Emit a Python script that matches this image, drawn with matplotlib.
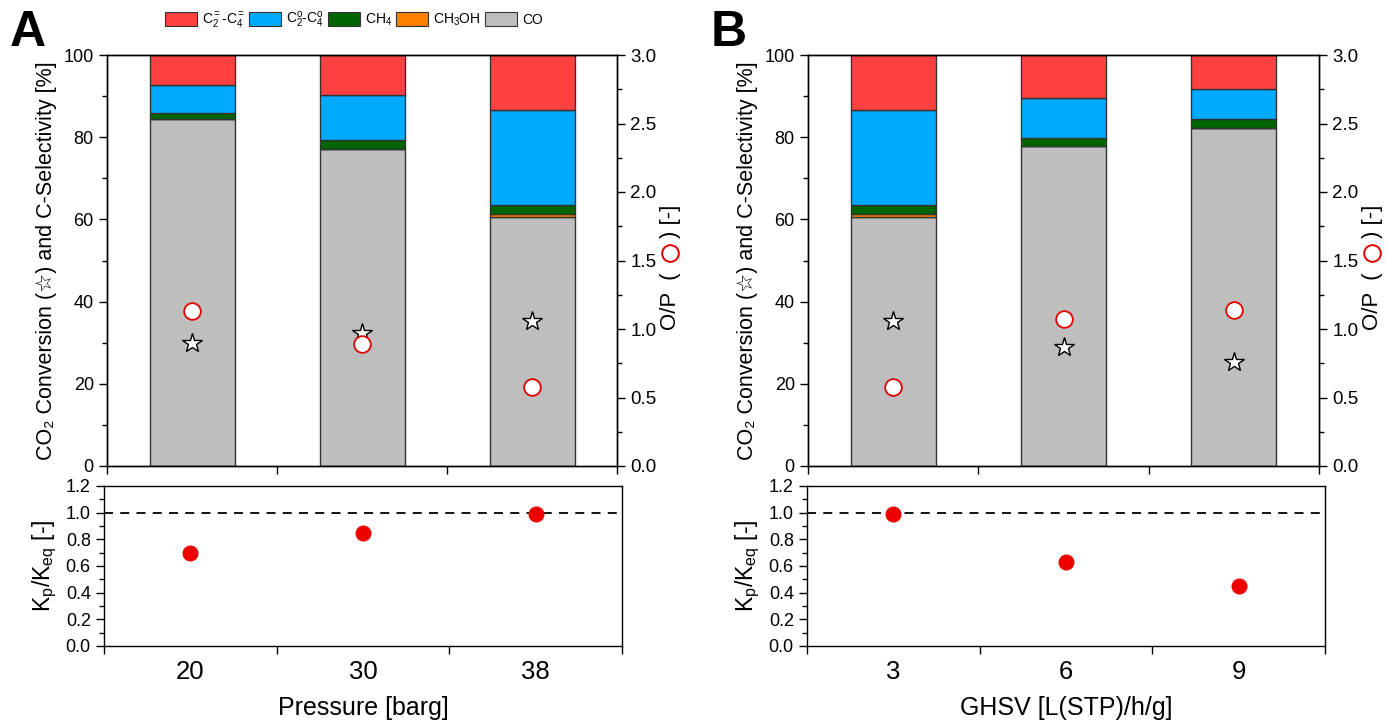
import matplotlib
matplotlib.use('Agg')
import matplotlib.pyplot as plt
from matplotlib.patches import Patch
from matplotlib.ticker import MultipleLocator, FixedLocator, NullFormatter

plt.rcParams['font.family'] = ['Liberation Sans', 'DejaVu Sans']
plt.rcParams['mathtext.fontset'] = 'custom'
plt.rcParams['mathtext.rm'] = 'Liberation Sans'
plt.rcParams['mathtext.it'] = 'Liberation Sans:italic'
plt.rcParams['axes.linewidth'] = 1.0

# Data
pressure_labels = ['20', '30', '38']
A_co = [84.5, 77.1, 60.7]
A_ch3oh = [0.0, 0.0, 0.6]
A_ch4 = [1.5, 2.1, 2.1]
A_paraffin = [6.6, 11.0, 23.2]
A_olefin = [7.4, 9.8, 13.4]
A_conv = [30.0, 32.3, 35.3]
A_op = [1.13, 0.89, 0.58]
A_kp = [0.70, 0.85, 0.99]

ghsv_labels = ['3', '6', '9']
B_co = [60.7, 77.8, 82.3]
B_ch3oh = [0.6, 0.0, 0.0]
B_ch4 = [2.1, 2.0, 2.1]
B_paraffin = [23.2, 9.8, 7.3]
B_olefin = [13.4, 10.4, 8.3]
B_conv = [35.3, 28.9, 25.2]
B_op = [0.58, 1.07, 1.14]
B_kp = [0.99, 0.63, 0.45]

COLORS = {'olefin': '#FF4040', 'paraffin': '#00AAFF', 'ch4': '#006400',
          'ch3oh': '#FF7F00', 'co': '#BEBEBE'}

W, H = 1386, 720
TICK_FS = 13
fig = plt.figure(figsize=(W / 100, H / 100), dpi=100)


def box(l, t, r, b):
    return [l / W, 1 - b / H, (r - l) / W, (b - t) / H]


def draw_top(ax, co, ch3oh, ch4, paraffin, olefin, conv, op):
    x = [1, 2, 3]
    bottom = [0, 0, 0]
    for key, vals in [('co', co), ('ch3oh', ch3oh), ('ch4', ch4),
                      ('paraffin', paraffin), ('olefin', olefin)]:
        ax.bar(x, vals, width=0.5, bottom=bottom, color=COLORS[key],
               edgecolor='#333333', linewidth=1.0, zorder=2)
        bottom = [b + v for b, v in zip(bottom, vals)]
    ax.plot(x, conv, linestyle='none', marker='*', markersize=15,
            markerfacecolor='white', markeredgecolor='black',
            markeredgewidth=1.0, zorder=4)
    ax.set_xlim(0.5, 3.5)
    ax.set_ylim(0, 100)
    ax.yaxis.set_major_locator(MultipleLocator(20))
    ax.yaxis.set_minor_locator(MultipleLocator(10))
    ax.xaxis.set_major_locator(FixedLocator([0.5, 1.5, 2.5, 3.5]))
    ax.xaxis.set_major_formatter(NullFormatter())
    ax.tick_params(axis='both', which='major', direction='out', length=6,
                   width=1, labelsize=TICK_FS)
    ax.tick_params(axis='y', which='minor', direction='out', length=3.5, width=1)
    ax.set_ylabel('CO\u2082 Conversion (\u2606) and C-Selectivity [%]',
                  fontsize=15.5, labelpad=5)

    ax2 = ax.twinx()
    ax2.plot(x, op, linestyle='none', marker='o', markersize=12,
             markerfacecolor='white', markeredgecolor='#E00000',
             markeredgewidth=1.3, zorder=5)
    ax2.set_ylim(0, 3.0)
    ax2.yaxis.set_major_locator(MultipleLocator(0.5))
    ax2.yaxis.set_minor_locator(MultipleLocator(0.25))
    ax2.yaxis.set_major_formatter(plt.FormatStrFormatter('%.1f'))
    ax2.tick_params(axis='y', which='major', direction='out', length=6,
                    width=1, labelsize=13.5)
    ax2.tick_params(axis='y', which='minor', direction='out', length=3.5, width=1)
    # right axis label: "O/P ( o ) [-]" with a red open circle
    lx = 1.104
    ax2.text(lx, 0.472, 'O/P  (', transform=ax2.transAxes, rotation=90,
             ha='center', va='top', fontsize=16)
    ax2.plot([lx], [0.518], transform=ax2.transAxes, marker='o',
             markersize=12, markerfacecolor='white', markeredgecolor='#E00000',
             markeredgewidth=1.4, clip_on=False)
    ax2.text(lx, 0.555, ') [-]', transform=ax2.transAxes, rotation=90,
             ha='center', va='bottom', fontsize=16)
    return ax2


def draw_bottom(ax, kp, labels, xlabel):
    x = [1, 2, 3]
    ax.plot(x, kp, linestyle='none', marker='o', markersize=10.5,
            color='#EE0000', zorder=3)
    ax.axhline(1.0, color='black', linestyle=(0, (5, 4)), linewidth=1.3)
    ax.set_xlim(0.5, 3.5)
    ax.set_ylim(0, 1.2)
    ax.yaxis.set_major_locator(MultipleLocator(0.2))
    ax.yaxis.set_minor_locator(MultipleLocator(0.1))
    ax.yaxis.set_major_formatter(plt.FormatStrFormatter('%.1f'))
    ax.set_xticks(x)
    ax.set_xticklabels(labels)
    ax.xaxis.set_minor_locator(FixedLocator([0.5, 1.5, 2.5, 3.5]))
    ax.tick_params(axis='x', which='major', length=0, labelsize=18.5, pad=10)
    ax.tick_params(axis='x', which='minor', direction='out', length=6, width=1)
    ax.tick_params(axis='y', which='major', direction='out', length=6,
                   width=1, labelsize=TICK_FS)
    ax.tick_params(axis='y', which='minor', direction='out', length=3.5, width=1)
    ax.set_ylabel('K$_\\mathrm{p}$/K$_\\mathrm{eq}$ [-]', fontsize=16.5, labelpad=5)
    ax.set_xlabel(xlabel, fontsize=18, labelpad=9)


axA = fig.add_axes(box(107, 55, 617, 466))
axAb = fig.add_axes(box(104, 486, 622, 646))
axB = fig.add_axes(box(808, 55, 1319, 466))
axBb = fig.add_axes(box(807, 486, 1325, 646))

draw_top(axA, A_co, A_ch3oh, A_ch4, A_paraffin, A_olefin, A_conv, A_op)
draw_top(axB, B_co, B_ch3oh, B_ch4, B_paraffin, B_olefin, B_conv, B_op)
draw_bottom(axAb, A_kp, pressure_labels, 'Pressure [barg]')
draw_bottom(axBb, B_kp, ghsv_labels, 'GHSV [L(STP)/h/g]')

fig.text(10 / W, 1 - 33 / H, 'A', fontsize=36, fontweight='bold', va='center')
fig.text(711 / W, 1 - 33 / H, 'B', fontsize=36, fontweight='bold', va='center')

handles = [Patch(facecolor=COLORS[k], edgecolor='#333333', linewidth=0.8)
           for k in ['olefin', 'paraffin', 'ch4', 'ch3oh', 'co']]
labels = ['C$_2^=$-C$_4^=$', 'C$_2^\\mathrm{o}$-C$_4^\\mathrm{o}$', 'CH$_4$',
          'CH$_3$OH', 'CO']
fig.legend(handles, labels, loc='center', bbox_to_anchor=(354 / W, 1 - 20 / H),
           ncol=5, frameon=False, fontsize=10, handlelength=2.3,
           handleheight=1.1, columnspacing=0.3, handletextpad=0.35,
           borderpad=0)

fig.savefig('out.png', dpi=100)
